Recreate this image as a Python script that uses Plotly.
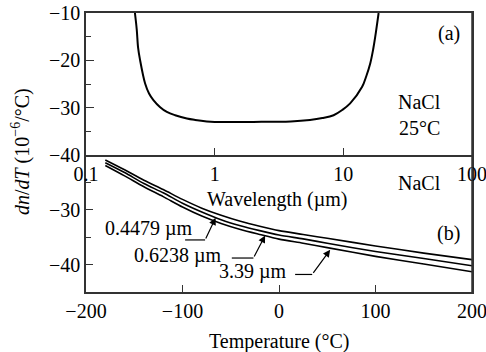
import plotly.graph_objects as go

# ---- data: panel (a) dn/dT vs wavelength, NaCl 25°C ----
wavelength_um = [0.240, 0.248, 0.254, 0.263, 0.288, 0.309, 0.334, 0.377, 0.425, 0.493,
                 0.608, 0.705, 0.869, 1.0, 2.0, 3.9, 5.5, 6.87, 8.4, 9.8, 11.3, 14.0,
                 15.1, 16.2, 17.1, 17.7, 18.8]
dndt_wl = [-10.0, -13.5, -17.3, -19.9, -24.9, -27.0, -28.4, -29.9, -30.9, -31.6,
           -32.3, -32.6, -32.9, -33.0, -33.0, -32.9, -32.6, -32.2, -31.6, -30.5, -29.1, -25.6,
           -23.3, -20.6, -17.5, -15.0, -10.0]

# ---- data: panel (b) dn/dT vs temperature ----
temperature_c = [-180, -160, -140, -120, -100, -80, -60, -40, -20, 0, 25, 50, 100, 150, 200]
dndt_04479 = [-20.9, -22.7, -24.6, -26.3, -28.1, -29.7, -31.0, -32.1, -33.0, -33.8,
              -34.5, -35.2, -36.6, -37.9, -39.1]
dndt_06238 = [-21.4, -23.2, -25.2, -26.9, -28.8, -30.4, -31.8, -32.9, -33.8, -34.6,
              -35.3, -36.1, -37.6, -38.9, -40.2]
dndt_339 = [-21.9, -23.8, -25.8, -27.6, -29.5, -31.15, -32.5, -33.6, -34.5, -35.35,
            -36.1, -36.9, -38.5, -39.9, -41.3]

series_labels = ["0.4479 µm", "0.6238 µm", "3.39 µm"]

FONT = "Liberation Serif"
FS = 20
AX = "#333333"

fig = go.Figure()

fig.add_trace(go.Scatter(x=wavelength_um, y=dndt_wl, mode="lines", xaxis="x2", yaxis="y2",
                         line=dict(color="black", width=2, shape="spline", smoothing=1.0),
                         showlegend=False))
for ys in (dndt_04479, dndt_06238, dndt_339):
    fig.add_trace(go.Scatter(x=temperature_c, y=ys, mode="lines", xaxis="x", yaxis="y",
                             line=dict(color="black", width=1.6, shape="spline", smoothing=0.8),
                             showlegend=False))

split = 0.491
common = dict(showgrid=False, zeroline=False, showline=True, linecolor=AX, linewidth=1.5,
              ticks="inside", tickcolor=AX, tickwidth=1.3, ticklabeloverflow="allow",
              automargin=False,
              tickfont=dict(family=FONT, size=FS, color="black"))

fig.update_layout(
    width=486, height=352,
    margin=dict(l=86, r=14, t=13, b=60, autoexpand=False),
    paper_bgcolor="white", plot_bgcolor="white",
    font=dict(family=FONT, size=FS, color="black"),
    xaxis=dict(range=[-200, 200], domain=[0, 1], anchor="y", tickvals=[-200, -100, 0, 100, 200],
               ticklen=7, mirror=False, **common),
    yaxis=dict(range=[-45, -20], domain=[0, split], anchor="x", tickvals=[-40, -30],
               ticklen=7, mirror=True,
               minor=dict(tickvals=[-35, -25], ticks="inside", ticklen=5, tickcolor=AX, tickwidth=1.2),
               **common),
    xaxis2=dict(type="log", range=[-1, 2], domain=[0, 1], anchor="y2",
                tickvals=[0.1, 1, 10, 100], ticktext=["0.1", "1", "10", "100"],
                ticklen=7, mirror=True, **common),
    yaxis2=dict(range=[-40, -10], domain=[split, 1], anchor="x2", tickvals=[-40, -30, -20, -10],
                ticklen=8, mirror=True,
                minor=dict(tickvals=[-35, -25, -15], ticks="inside", ticklen=5, tickcolor=AX, tickwidth=1.2),
                **common),
)

# right-hand frame line spanning both panels
fig.add_shape(type="line", xref="paper", yref="paper", x0=1, x1=1, y0=0, y1=1,
              line=dict(color=AX, width=1.5))


def txt(x, y, s, xref="paper", yref="paper", **kw):
    fig.add_annotation(x=x, y=y, xref=xref, yref=yref, text=s, showarrow=False,
                       xanchor="center", yanchor="middle",
                       font=dict(family=FONT, size=FS, color="black"), **kw)


# panel texts
txt(0.940, 0.925, "(a)")
txt(0.865, 0.681, "NaCl")
txt(0.865, 0.588, "25°C")
txt(0.865, 0.391, "NaCl")
txt(0.938, 0.211, "(b)")
txt(0.495, 0.330, "Wavelength (µm)")
txt(0.500, -0.178, "Temperature (°C)")
txt(-0.168, 0.502, "<i>dn</i>/<i>dT</i> (10<sup>−6</sup>/°C)", textangle=-90)

# curve labels with leader arrows (data coords of the temperature panel)
label_pos = [(-134.7, -33.45), (-104.6, -38.4), (-26.8, -41.3)]
leaders = [((-97.3, -76.6, -35.5), (-65.7, -31.45)),
           ((-48.9, -26.5, -38.8), (-14.4, -34.7)),
           ((16.7, 34.4, -41.8), (53.0, -37.3))]
for lab, (lx, ly), ((h0, h1, hy), (tx, ty)) in zip(series_labels, label_pos, leaders):
    txt(lx, ly, lab, xref="x", yref="y")
    fig.add_shape(type="line", xref="x", yref="y", x0=h0, x1=h1, y0=hy, y1=hy,
                  line=dict(color="black", width=1.2))
    fig.add_annotation(x=tx, y=ty, ax=h1, ay=hy, xref="x", yref="y", axref="x", ayref="y",
                       text="", showarrow=True, arrowhead=2, arrowsize=1.2, arrowwidth=1.2,
                       arrowcolor="black", standoff=0)

fig.write_html("out.html")
